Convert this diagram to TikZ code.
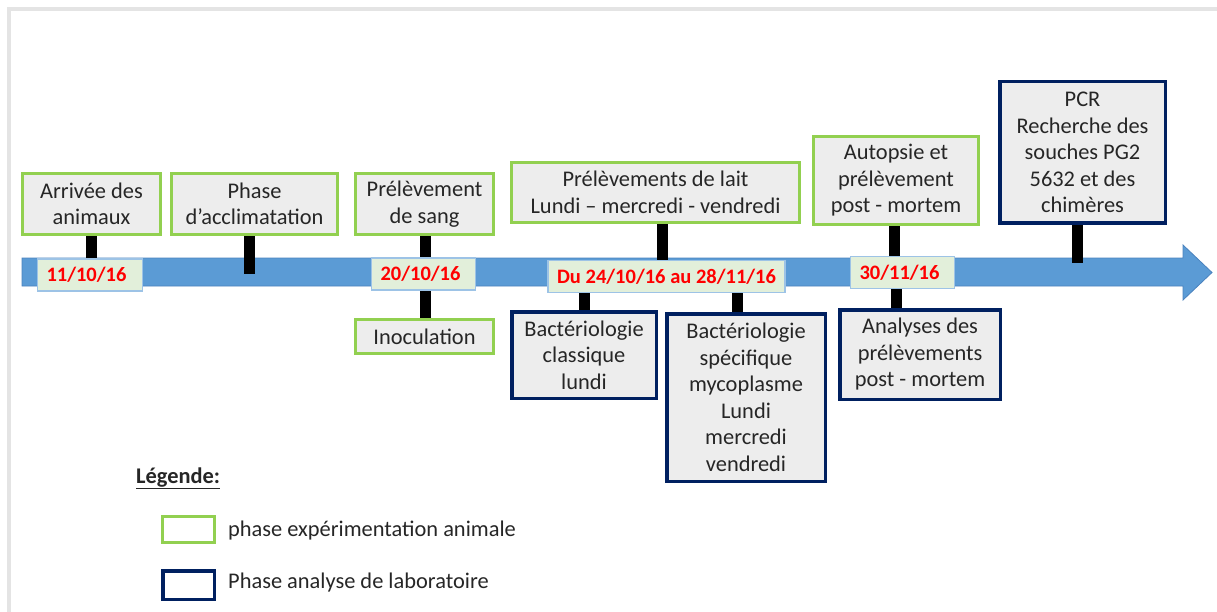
\documentclass[tikz,border=0pt]{standalone}
\usepackage{fontspec}
\setmainfont{Carlito}
\definecolor{boxgreen}{HTML}{92D050}
\definecolor{boxnavy}{HTML}{002060}
\definecolor{boxfill}{HTML}{EDEDED}
\definecolor{barblue}{HTML}{5B9BD5}
\definecolor{baredge}{HTML}{4A82BE}
\definecolor{datefill}{HTML}{E2EFDA}
\definecolor{dateedge}{HTML}{9DC3E6}
\definecolor{datered}{HTML}{FF0000}
\definecolor{txt}{HTML}{262626}
\definecolor{framegray}{HTML}{E4E4E4}
\pgfdeclarelayer{back}
\pgfdeclarelayer{mid}
\pgfsetlayers{back,mid,main}
\begin{document}
\begin{tikzpicture}[x=1pt,y=-1pt,
  bodyfont/.style={font=\fontsize{22.4}{26.5}\selectfont},
  box/.style={bodyfont, text=txt, fill=boxfill, align=center, inner sep=0pt},
  animal/.style={box, draw=boxgreen, line width=3pt},
  labo/.style={box, draw=boxnavy, line width=3.5pt},
  datebox/.style={fill=datefill, draw=dateedge, line width=1.2pt, text=datered,
    font=\fontsize{20.5}{24}\selectfont\bfseries, inner xsep=9pt, inner ysep=0pt,
    align=left, minimum height=32pt},
  stub/.style={draw=black, line width=11pt},
  legtext/.style={bodyfont, text=txt, inner sep=0pt, anchor=base west},
]
\useasboundingbox (0,0) rectangle (1217,612);

% page frame
\draw[framegray, line width=4pt] (9,612) -- (9,9) -- (1217,9);

% time axis
\begin{pgfonlayer}{back}
\draw[fill=barblue, draw=baredge, line width=0.8pt]
  (22,258) -- (1183,258) -- (1183,245) -- (1212,272.5) -- (1183,300)
  -- (1183,286) -- (22,286) -- cycle;
\end{pgfonlayer}

% dates on the axis
\node[datebox, text width=87pt]  (D1) at (90,275)    {11/10/16};
\node[datebox, text width=86pt]  (D2) at (423.5,274) {20/10/16};
\node[datebox, align=center, minimum width=234pt] (D3) at (666.5,276.5) {Du 24/10/16 au 28/11/16};
\node[datebox, text width=86pt]  (D4) at (902.5,272.5) {30/11/16};

% animal experimentation steps
\node[animal, minimum width=138pt, minimum height=61pt] (B1) at (91.5,204) {Arrivée des\\animaux};
\node[animal, minimum width=166pt, minimum height=61pt] (B2) at (254.5,204) {Phase\\d’acclimatation};
\node[animal, minimum width=138pt, minimum height=61pt] (B3) at (424.5,204) {Prélèvement\\de sang};
\node[animal, minimum width=138pt, minimum height=34pt] (B4) at (424.5,336.5) {Inoculation};
\node[animal, minimum width=288pt, minimum height=60pt] (B5) at (655.5,192.5) {Prélèvements de lait\\Lundi – mercredi - vendredi};
\node[animal, minimum width=165pt, minimum height=88pt] (B6) at (896,180.5) {Autopsie et\\prélèvement\\post - mortem};

% laboratory analysis steps
\node[labo, minimum width=144.5pt, minimum height=86.5pt] (B7) at (584,355) {Bactériologie\\classique\\lundi};
\node[labo, minimum width=158.5pt, minimum height=167.5pt] (B8) at (746,397.5) {Bactériologie\\spécifique\\mycoplasme\\Lundi\\mercredi\\vendredi};
\node[labo, minimum width=160.5pt, minimum height=89.5pt] (B9) at (920,354.5) {Analyses des\\prélèvements\\post - mortem};
\node[labo, minimum width=165.5pt, minimum height=141.5pt] (B10) at (1082.5,152.5) {PCR\\Recherche des\\souches PG2\\5632 et des\\chimères};

% free ends of the stubs that stop on the axis
\coordinate (t2) at (249.5,274);
\coordinate (t10) at (1077,263);

% stubs linking the steps to the axis
\begin{pgfonlayer}{mid}
\draw[stub] (B1.south) -- (B1.south |- D1.north);
\draw[stub] (B2.south -| t2) -- (t2);
\draw[stub] ([xshift=1pt]B3.south) -- ([xshift=1pt]B3.south |- D2.north);
\draw[stub] ([xshift=1pt]B4.north |- D2.south) -- ([xshift=1pt]B4.north);
\draw[stub] ([xshift=7pt]B5.south) -- ([xshift=7pt]B5.south |- D3.north);
\draw[stub] (B7.north |- D3.south) -- (B7.north);
\draw[stub] ([xshift=-8.5pt]B8.north |- D3.south) -- ([xshift=-8.5pt]B8.north);
\draw[stub] ([xshift=-1.5pt]B6.south) -- ([xshift=-1.5pt]B6.south |- D4.north);
\draw[stub] ([xshift=-6pt]D4.south) -- ([xshift=-6pt]D4.south |- B9.north);
\draw[stub] (B10.south -| t10) -- (t10);
\end{pgfonlayer}

% legend
\node[anchor=base west, inner sep=0pt, text=txt,
      font=\fontsize{22.4}{26.5}\selectfont\bfseries] (leg) at (136,483) {\underline{Légende:}};
\node[draw=boxgreen, line width=3pt, fill=white, minimum width=52pt, minimum height=26pt, inner sep=0pt] (LA) at (188.5,529.5) {};
\node[draw=boxnavy, line width=3.5pt, fill=white, minimum width=51.5pt, minimum height=28.5pt, inner sep=0pt] (LL) at (188.5,585) {};
\node[legtext] (LAt) at (228,536) {phase expérimentation animale};
\node[legtext] (LLt) at (228,588) {Phase analyse de laboratoire};
\end{tikzpicture}
\end{document}
